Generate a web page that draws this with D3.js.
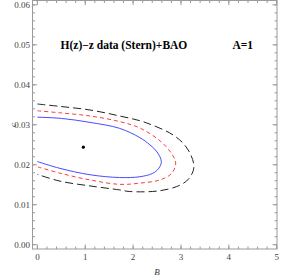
<!DOCTYPE html>
<html>
<head>
<meta charset="utf-8">
<script src="https://cdn.jsdelivr.net/npm/d3@7"></script>
<style>
body { margin: 0; background: #fff; }
.frame { fill: none; stroke: #9a9a9a; stroke-width: 1; }
.tick-line { stroke: #9a9a9a; stroke-width: 1; }
.tick-label { font-family: "Liberation Serif", serif; font-size: 9px; fill: #444; }
.axis-label { font-family: "Liberation Serif", serif; font-style: italic; font-size: 9px; fill: #333; }
.title { font-family: "Liberation Serif", serif; font-weight: bold; font-size: 11.5px; fill: #000; }
</style>
</head>
<body>
<div id="chart"></div>
<script>
var widthGlobal = 282,
    heightGlobal = 277,
    frame = {left: 32.5, right: 277, top: 0.5, bottom: 249},

    // ticks
    xTicks = [0, 1, 2, 3, 4, 5],
    yTicks = [0.00, 0.01, 0.02, 0.03, 0.04, 0.05, 0.06],
    yTickLabels = ["0.00", "0.01", "0.02", "0.03", "0.04", "0.05", "0.06"],

    // best fit point
    bestFit = [0.96, 0.0244],

    // contours, [B, c], from B = 0 upper branch round to B = 0 lower branch
    contour1 = [
        [0, 0.0319], [0.5, 0.0316], [1.1, 0.0306], [1.72, 0.0291], [2.14, 0.0268],
        [2.35, 0.0250], [2.5, 0.0232], [2.59, 0.0208], [2.53, 0.0190], [2.4, 0.0178],
        [2.14, 0.0170], [1.72, 0.0168], [1.1, 0.0175], [0.47, 0.0191], [0, 0.0208]
    ],
    contour2 = [
        [0, 0.0335], [0.47, 0.0330], [1.1, 0.0322], [1.72, 0.0308], [2.14, 0.0292],
        [2.56, 0.0260], [2.78, 0.0232], [2.89, 0.0204], [2.8, 0.0178], [2.56, 0.0162],
        [2.14, 0.0154], [1.72, 0.0151], [1.1, 0.0162], [0.47, 0.0179], [0, 0.0195]
    ],
    contour3 = [
        [0, 0.0352], [0.47, 0.0346], [1.1, 0.0337], [1.72, 0.0322], [2.25, 0.0306],
        [2.88, 0.0271], [3.15, 0.0237], [3.27, 0.0195], [3.17, 0.0166], [2.98, 0.0149],
        [2.56, 0.0135], [1.93, 0.0133], [1.72, 0.0137], [1.1, 0.0147], [0.47, 0.0159], [0, 0.0176]
    ],

    x = d3.scaleLinear()
        .domain([-0.102, 5.006])
        .range([frame.left, frame.right]),
    y = d3.scaleLinear()
        .domain([-0.00108, 0.0611])
        .range([frame.bottom, frame.top]),

    svg = d3.select("#chart")
        .append("svg")
        .attr("width", widthGlobal)
        .attr("height", heightGlobal);

// minor ticks
var xMinor = d3.range(0, 5.0001, 0.2),
    yMinor = d3.range(0, 0.06001, 0.002);

var ticks = svg.append("g");
function tickSet(values, isX, len) {
    values.forEach(function (v) {
        if (isX) {
            var px = x(v);
            ticks.append("line").attr("class", "tick-line")
                .attr("x1", px).attr("x2", px).attr("y1", frame.bottom).attr("y2", frame.bottom - len);
            ticks.append("line").attr("class", "tick-line")
                .attr("x1", px).attr("x2", px).attr("y1", frame.top).attr("y2", frame.top + len);
        } else {
            var py = y(v);
            ticks.append("line").attr("class", "tick-line")
                .attr("x1", frame.left).attr("x2", frame.left + len).attr("y1", py).attr("y2", py);
            ticks.append("line").attr("class", "tick-line")
                .attr("x1", frame.right).attr("x2", frame.right - len).attr("y1", py).attr("y2", py);
        }
    });
}
tickSet(xMinor, true, 2.5);
tickSet(yMinor, false, 2.5);
tickSet(xTicks, true, 4.5);
tickSet(yTicks, false, 4.5);

svg.append("rect")
    .attr("class", "frame")
    .attr("x", frame.left)
    .attr("y", frame.top)
    .attr("width", frame.right - frame.left)
    .attr("height", frame.bottom - frame.top);

// tick labels
svg.append("g").selectAll("text")
    .data(xTicks)
    .enter().append("text")
    .attr("class", "tick-label")
    .attr("x", function (d) { return x(d); })
    .attr("y", 260)
    .attr("text-anchor", "middle")
    .text(function (d) { return d; });
svg.append("g").selectAll("text")
    .data(yTicks)
    .enter().append("text")
    .attr("class", "tick-label")
    .attr("x", 30)
    .attr("y", function (d) { return y(d) + 3; })
    .attr("text-anchor", "end")
    .text(function (d, i) { return yTickLabels[i]; });

// axis labels
svg.append("text")
    .attr("class", "axis-label")
    .attr("x", 157)
    .attr("y", 274.5)
    .attr("text-anchor", "middle")
    .text("B");
svg.append("text")
    .attr("class", "axis-label")
    .attr("transform", "translate(16,125) rotate(-90)")
    .attr("text-anchor", "middle")
    .text("c");

// contours
var line = d3.line()
    .x(function (d) { return x(d[0]); })
    .y(function (d) { return y(d[1]); })
    .curve(d3.curveCatmullRom.alpha(0.5));

svg.append("path")
    .datum(contour3)
    .attr("d", line)
    .attr("fill", "none")
    .attr("stroke", "#222")
    .attr("stroke-width", 1)
    .attr("stroke-dasharray", "8,4");
svg.append("path")
    .datum(contour2)
    .attr("d", line)
    .attr("fill", "none")
    .attr("stroke", "#ff3b3b")
    .attr("stroke-width", 1)
    .attr("stroke-dasharray", "4,3");
svg.append("path")
    .datum(contour1)
    .attr("d", line)
    .attr("fill", "none")
    .attr("stroke", "#4a4aff")
    .attr("stroke-width", 1);

svg.append("circle")
    .attr("cx", x(bestFit[0]))
    .attr("cy", y(bestFit[1]))
    .attr("r", 1.6)
    .attr("fill", "#000");

// titles
svg.append("text")
    .attr("class", "title")
    .attr("x", 60.5)
    .attr("y", 48.5)
    .text("H(z)\u2212z data (Stern)+BAO");
svg.append("text")
    .attr("class", "title")
    .attr("x", 232.5)
    .attr("y", 48.5)
    .text("A=1");
</script>
</body>
</html>
